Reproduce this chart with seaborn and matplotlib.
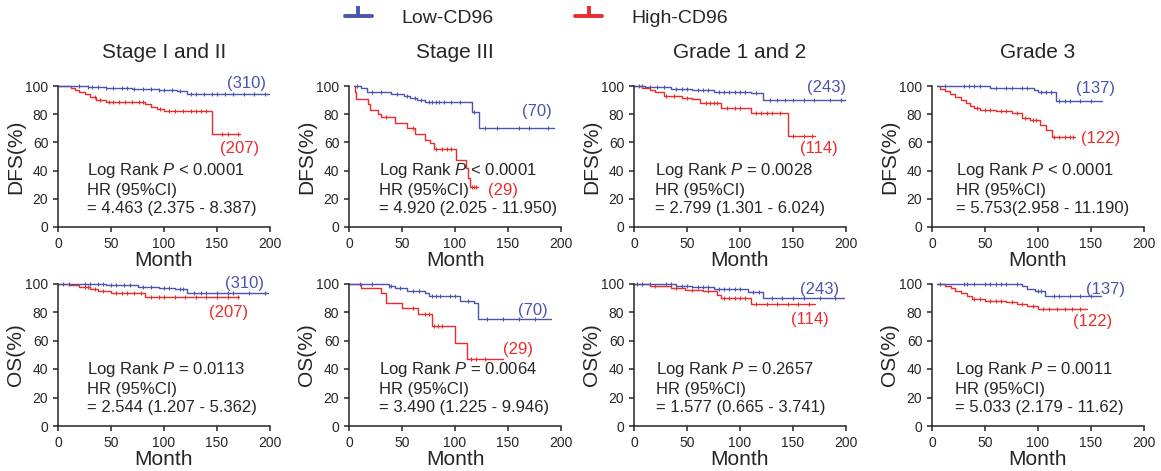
import numpy as np
import pandas as pd
import seaborn as sns
from matplotlib import pyplot as plt
from matplotlib.lines import Line2D

# ---- data ----
TITLES = ["Stage I and II", "Stage III", "Grade 1 and 2", "Grade 3"]
ROW_LABELS = ["DFS(%)", "OS(%)"]
GROUPS = ["Low-CD96", "High-CD96"]

# DFS, Stage I and II
dfs_s12_low_t = [0, 28, 45, 70, 95, 112, 122, 199]
dfs_s12_low_s = [100, 99.3, 98.7, 98, 97.3, 96.2, 94.1, 94.1]
dfs_s12_low_c = [20, 28, 32, 38, 45, 52, 60, 65, 72, 80, 88, 95, 100, 108, 115, 125, 130, 138, 145, 150, 158, 165, 175, 185, 195]
dfs_s12_high_t = [0, 12, 16, 20, 25, 30, 36, 45, 82, 88, 93, 100, 145, 172]
dfs_s12_high_s = [100, 98.8, 97.5, 95.5, 94, 92.5, 90, 88.8, 87, 85.3, 83.8, 82.2, 65.8, 65.8]
dfs_s12_high_c = [35, 40, 48, 52, 58, 63, 70, 76, 80, 96, 105, 110, 118, 125, 130, 135, 140, 155, 160, 170]

# DFS, Stage III
dfs_s3_low_t = [5, 11, 17, 40, 52, 58, 64, 72, 116, 123, 193]
dfs_s3_low_s = [100, 98.6, 96, 94.5, 93, 91.2, 89.8, 88.4, 81.8, 70.1, 70.1]
dfs_s3_low_c = [8, 22, 30, 45, 55, 62, 68, 75, 78, 82, 85, 90, 96, 105, 118, 128, 140, 160, 170, 188]
dfs_s3_high_t = [5, 5.5, 7, 18, 20, 27, 30, 43, 55, 62, 72, 76, 80, 101, 110, 112, 114, 122]
dfs_s3_high_s = [100, 96, 90.5, 87, 83, 80, 78, 73.5, 70, 66, 62, 59.5, 55, 47.4, 41.5, 34.4, 28.4, 28.4]
dfs_s3_high_c = [35, 60, 82, 88, 92, 96, 116, 118, 120]

# DFS, Grade 1 and 2
dfs_g12_low_t = [0, 10, 35, 55, 75, 110, 122, 199]
dfs_g12_low_s = [100, 99, 98, 97, 96, 95, 90.2, 90.2]
dfs_g12_low_c = [5, 8, 15, 22, 28, 40, 45, 50, 60, 65, 70, 80, 85, 90, 95, 100, 105, 115, 128, 135, 142, 150, 160, 170, 185, 195]
dfs_g12_high_t = [0, 8, 15, 20, 28, 45, 55, 62, 82, 110, 145, 171]
dfs_g12_high_s = [100, 98.5, 97, 95.5, 93, 91.8, 90.5, 88.2, 84.7, 80.7, 64.3, 64.3]
dfs_g12_high_c = [30, 38, 50, 68, 72, 75, 78, 88, 95, 100, 115, 120, 125, 130, 138, 150, 160, 168]

# DFS, Grade 3
dfs_g3_low_t = [5, 55, 96, 100, 117, 160]
dfs_g3_low_s = [100, 98.5, 97, 95.5, 89.6, 89.6]
dfs_g3_low_c = [12, 30, 35, 40, 45, 60, 70, 75, 85, 90, 103, 108, 112, 120, 125, 130, 140, 150]
dfs_g3_high_t = [5, 8, 12, 17, 22, 27, 32, 36, 40, 45, 60, 75, 85, 92, 102, 108, 113, 135]
dfs_g3_high_s = [100, 98, 96.5, 94, 92, 90, 88, 86, 84.5, 83, 82.5, 81, 77.5, 76, 72.3, 68.5, 64, 64]
dfs_g3_high_c = [42, 50, 55, 65, 70, 80, 88, 95, 98, 115, 120, 125, 130, 133]

# OS, Stage I and II
os_s12_low_t = [0, 15, 45, 75, 95, 110, 122, 198]
os_s12_low_s = [100, 99.6, 99, 97.8, 97, 96, 93.4, 93.4]
os_s12_low_c = [5, 10, 25, 30, 38, 42, 50, 55, 62, 68, 80, 88, 100, 105, 115, 118, 128, 135, 140, 150, 160, 165, 180, 195]
os_s12_high_t = [0, 10, 20, 30, 38, 50, 82, 171]
os_s12_high_s = [100, 99, 97.5, 96, 94.5, 93.5, 90.7, 90.7]
os_s12_high_c = [25, 28, 35, 42, 55, 60, 65, 72, 78, 88, 95, 100, 110, 120, 130, 140, 150, 160, 170]

# OS, Stage III
os_s3_low_t = [0, 38, 43, 55, 72, 75, 105, 118, 122, 191]
os_s3_low_s = [100, 98.5, 96.7, 95, 93.6, 91.5, 87.8, 86, 74.8, 74.8]
os_s3_low_c = [10, 22, 38, 40, 48, 60, 66, 78, 82, 86, 95, 100, 112, 130, 145, 160, 175]
os_s3_high_t = [0, 11, 30, 35, 50, 65, 78, 100, 111, 145]
os_s3_high_s = [100, 97, 93, 86, 82.6, 78.8, 70, 58.4, 47, 47]
os_s3_high_c = [60, 72, 75, 80, 84, 88, 115, 120, 128]

# OS, Grade 1 and 2
os_g12_low_t = [0, 25, 40, 55, 75, 108, 122, 198]
os_g12_low_s = [100, 99.5, 98.5, 97.5, 96, 94, 89.9, 89.9]
os_g12_low_c = [3, 8, 15, 30, 35, 45, 50, 60, 65, 70, 80, 85, 90, 95, 100, 112, 118, 130, 140, 150, 160, 175, 190]
os_g12_high_t = [0, 15, 35, 48, 65, 78, 82, 110, 171]
os_g12_high_s = [100, 98.5, 97, 95.5, 94.5, 92.2, 90, 85.4, 85.4]
os_g12_high_c = [20, 40, 55, 70, 85, 90, 95, 100, 105, 115, 125, 135, 145, 155, 165]

# OS, Grade 3
os_g3_low_t = [5, 85, 90, 97, 107, 159]
os_g3_low_s = [100, 98.5, 96, 94.5, 91, 91]
os_g3_low_c = [8, 30, 33, 40, 50, 55, 60, 65, 70, 80, 100, 103, 115, 120, 130, 140, 150]
os_g3_high_t = [5, 12, 18, 22, 27, 33, 38, 50, 70, 80, 90, 100, 146]
os_g3_high_s = [100, 98.5, 97, 95, 93, 91, 89, 88, 87, 85.5, 84.5, 82, 82]
os_g3_high_c = [40, 45, 55, 60, 65, 75, 85, 95, 105, 110, 118, 125, 132, 140]

# group sizes and their label positions (month, %)
n_low = [310, 70, 243, 137, 310, 70, 243, 137]
n_high = [207, 29, 114, 122, 207, 29, 114, 122]
n_low_pos = [(178, 102), (177, 82), (182, 99), (154, 98), (176, 100), (173, 81), (175, 96), (164, 96)]
n_high_pos = [(171, 56), (145, 26), (174, 56), (159, 63), (161, 80), (159, 54), (166, 75), (152, 73)]

# statistics text
p_text = ["< 0.0001", "< 0.0001", "= 0.0028", "< 0.0001", "= 0.0113", "= 0.0064", "= 0.2657", "= 0.0011"]
hr_text = ["= 4.463 (2.375 - 8.387)", "= 4.920 (2.025 - 11.950)", "= 2.799 (1.301 - 6.024)",
           "= 5.753(2.958 - 11.190)", "= 2.544 (1.207 - 5.362)", "= 3.490 (1.225 - 9.946)",
           "= 1.577 (0.665 - 3.741)", "= 5.033 (2.179 - 11.62)"]
text_x = [27, 28, 20, 23, 27, 28, 21, 22]

curves = [
    (dfs_s12_low_t, dfs_s12_low_s, dfs_s12_low_c, dfs_s12_high_t, dfs_s12_high_s, dfs_s12_high_c),
    (dfs_s3_low_t, dfs_s3_low_s, dfs_s3_low_c, dfs_s3_high_t, dfs_s3_high_s, dfs_s3_high_c),
    (dfs_g12_low_t, dfs_g12_low_s, dfs_g12_low_c, dfs_g12_high_t, dfs_g12_high_s, dfs_g12_high_c),
    (dfs_g3_low_t, dfs_g3_low_s, dfs_g3_low_c, dfs_g3_high_t, dfs_g3_high_s, dfs_g3_high_c),
    (os_s12_low_t, os_s12_low_s, os_s12_low_c, os_s12_high_t, os_s12_high_s, os_s12_high_c),
    (os_s3_low_t, os_s3_low_s, os_s3_low_c, os_s3_high_t, os_s3_high_s, os_s3_high_c),
    (os_g12_low_t, os_g12_low_s, os_g12_low_c, os_g12_high_t, os_g12_high_s, os_g12_high_c),
    (os_g3_low_t, os_g3_low_s, os_g3_low_c, os_g3_high_t, os_g3_high_s, os_g3_high_c),
]

BLUE = "#4a55ad"
RED = "#ee2b2b"

sns.set_style("ticks")
plt.rcParams['font.family'] = ['Liberation Sans', 'DejaVu Sans']
plt.rcParams['mathtext.fontset'] = 'custom'
plt.rcParams['mathtext.rm'] = 'Liberation Sans'
plt.rcParams['mathtext.it'] = 'Liberation Sans:italic'
plt.rcParams['axes.linewidth'] = 1.1
plt.rcParams['xtick.major.width'] = 1.1
plt.rcParams['ytick.major.width'] = 1.1
plt.rcParams['xtick.major.size'] = 3.5
plt.rcParams['ytick.major.size'] = 3.5
plt.rcParams['xtick.labelsize'] = 10
plt.rcParams['ytick.labelsize'] = 10


def censor_df(times, surv, cens):
    # y of each censor tick = value of the step curve at that time
    times = np.asarray(times)
    surv = np.asarray(surv)
    c = np.asarray([x for x in cens if x <= times[-1]])
    idx = np.searchsorted(times, c, side='right') - 1
    return pd.DataFrame({'t': c, 's': surv[idx]})


fig = plt.figure(figsize=(11.61, 4.71), dpi=100)
lefts = [58, 349, 634, 932]
row_bottoms = [1 - 227 / 471, 1 - 426 / 471]
row_heights = [141 / 471, 142.5 / 471]

for i, (lt, ls, lc, ht, hs, hc) in enumerate(curves):
    row, col = divmod(i, 4)
    ax = fig.add_axes([lefts[col] / 1161, row_bottoms[row], 212 / 1161, row_heights[row]])

    for t, s, c, color in [(ht, hs, hc, RED), (lt, ls, lc, BLUE)]:
        df = pd.DataFrame({'t': t, 's': s})
        sns.lineplot(data=df, x='t', y='s', ax=ax, color=color, drawstyle='steps-post',
                     estimator=None, sort=False, linewidth=1.0, clip_on=False)
        cdf = censor_df(t, s, c)
        sns.scatterplot(data=cdf, x='t', y='s', ax=ax, marker='|', color=color, s=7,
                        linewidth=0.8, clip_on=False)

    ax.set_xlim(0, 200)
    ax.set_ylim(0, 100)
    ax.set_xticks([0, 50, 100, 150, 200])
    ax.set_yticks([0, 20, 40, 60, 80, 100])
    ax.set_xlabel('Month', fontsize=15, labelpad=0)
    ax.set_ylabel(ROW_LABELS[row], fontsize=15, labelpad=0)
    if row == 0:
        ax.set_title(TITLES[col], fontsize=15, pad=20)
    sns.despine(ax=ax)

    ax.text(n_low_pos[i][0], n_low_pos[i][1], f"({n_low[i]})", color=BLUE, fontsize=12,
            ha='center', va='center')
    ax.text(n_high_pos[i][0], n_high_pos[i][1], f"({n_high[i]})", color=RED, fontsize=12,
            ha='center', va='center')
    ax.text(text_x[i], 46.5, f"Log Rank $P$ {p_text[i]}\nHR (95%CI)\n{hr_text[i]}",
            fontsize=12, ha='left', va='top', linespacing=1.25)

tee = [(0, 0), (0, 1)]
handles = [Line2D([], [], color=BLUE, lw=2.8, marker=tee, markersize=14, markeredgewidth=2.8),
           Line2D([], [], color=RED, lw=2.8, marker=tee, markersize=14, markeredgewidth=2.8)]
fig.legend(handles, GROUPS, loc='center', bbox_to_anchor=(0.462, 0.962), ncol=2, frameon=False,
           fontsize=14, handlelength=1.4, handletextpad=1.5, columnspacing=4.2, numpoints=1)

plt.savefig('out.png', dpi=100)
